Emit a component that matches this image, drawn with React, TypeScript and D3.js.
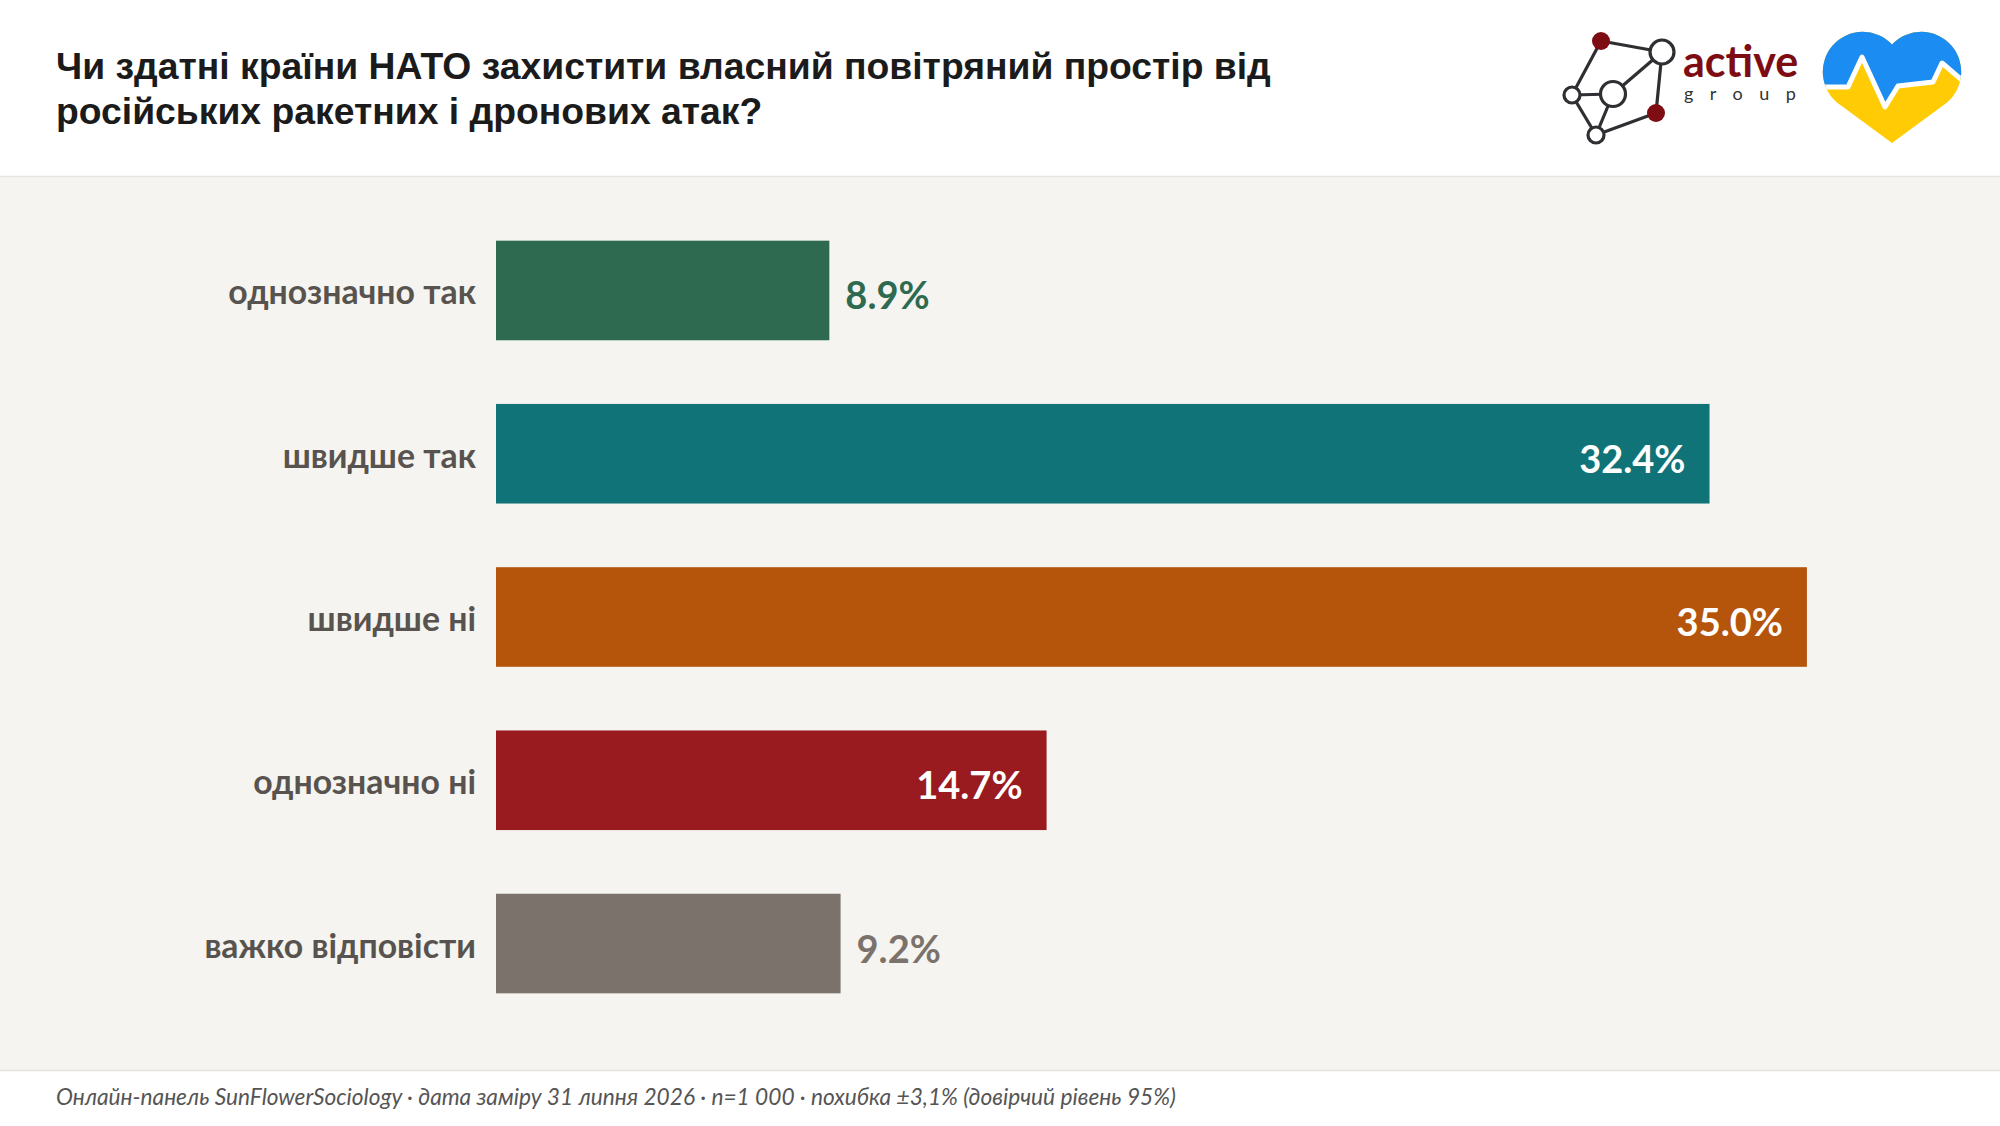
// @ts-nocheck
import React from 'react'
import * as d3 from 'd3'

const titleLines = [
  'Чи здатні країни НАТО захистити власний повітряний простір від',
  'російських ракетних і дронових атак?',
]
const categories = ['однозначно так', 'швидше так', 'швидше ні', 'однозначно ні', 'важко відповісти']
const values = [8.9, 32.4, 35.0, 14.7, 9.2]
const barColors = ['#2e6a50', '#107377', '#b5540b', '#9a1b1f', '#7b726c']
const footnote =
  'Онлайн-панель SunFlowerSociology · дата заміру 31 липня 2026 · n=1 000 · похибка ±3,1% (довірчий рівень 95%)'

const W = 2000
const H = 1126
const headerH = 176
const footerY = 1070
const font = 'Lato, "Noto Sans", "DejaVu Sans", sans-serif'

const ActiveLogo = () => {
  const nodes = [
    { x: 1601, y: 41, r: 9, fill: '#7d0d12' },
    { x: 1662, y: 52, r: 12, fill: '#fff' },
    { x: 1613, y: 94, r: 12.5, fill: '#fff' },
    { x: 1572, y: 95, r: 8, fill: '#fff' },
    { x: 1656, y: 113, r: 9, fill: '#7d0d12' },
    { x: 1596, y: 135, r: 8, fill: '#fff' },
  ]
  const links = [[0, 1], [0, 3], [3, 2], [3, 5], [2, 1], [2, 5], [1, 4], [4, 5]]
  return (
    <g>
      {links.map(([a, b], i) => (
        <line key={i} x1={nodes[a].x} y1={nodes[a].y} x2={nodes[b].x} y2={nodes[b].y} stroke="#2f2f33" strokeWidth={3.2} />
      ))}
      {nodes.map((n, i) => (
        <circle key={i} cx={n.x} cy={n.y} r={n.r} fill={n.fill} stroke={n.fill === '#fff' ? '#2f2f33' : 'none'} strokeWidth={3.2} />
      ))}
      <text x={1683} y={77} fontFamily={font} fontWeight={700} fontSize={43} fill="#7d0d12">
        active
      </text>
      <text x={1684} y={100} fontFamily={font} fontSize={18} letterSpacing={16.5} fill="#333">
        group
      </text>
    </g>
  )
}

const HeartLogo = () => {
  const heart =
    'M1892,44.5 A40,40 0 1 0 1839.3,104.2 L1892,143 L1944.7,104.2 A40,40 0 1 0 1892,44.5 Z'
  const ecg = d3.line()([
    [1820, 87],
    [1848, 87],
    [1862, 57],
    [1885, 107],
    [1898, 86],
    [1933, 82],
    [1942, 63],
    [1962, 80],
  ])
  return (
    <g>
      <defs>
        <clipPath id="heartClip">
          <path d={heart} />
        </clipPath>
      </defs>
      <g clipPath="url(#heartClip)">
        <rect x={1815} y={25} width={155} height={125} fill="#ffcb05" />
        <path d={ecg + 'L1962,20L1820,20Z'} fill="#1a8cf2" />
        <path d={ecg} fill="none" stroke="#fff" strokeWidth={5} strokeLinejoin="round" />
      </g>
    </g>
  )
}

const App = () => {
  const y = d3.scaleBand().domain(categories).range([177, 1057]).padding(0.39)
  const x = d3
    .scaleLinear()
    .domain([0, d3.max(values) * 1.1])
    .range([496, 1938])

  return (
    <svg width={W} height={H} style={{ position: 'absolute', left: 0, top: 0 }}>
      <rect x={0} y={0} width={W} height={H} fill="#ffffff" />
      <rect x={0} y={headerH} width={W} height={footerY - headerH} fill="#f5f4f0" />
      <line x1={0} x2={W} y1={headerH + 0.5} y2={headerH + 0.5} stroke="#e6e4df" strokeWidth={1.5} />
      <line x1={0} x2={W} y1={footerY + 0.5} y2={footerY + 0.5} stroke="#e6e4df" strokeWidth={1.5} />

      <text fontFamily='"Liberation Sans", Arial, sans-serif' fontWeight={700} fontSize={37.3} fill="#1b1b1b">
        {titleLines.map((t, i) => (
          <tspan key={i} x={56} y={79 + i * 45}>
            {t}
          </tspan>
        ))}
      </text>

      <ActiveLogo />
      <HeartLogo />

      {categories.map((c, i) => {
        const v = values[i]
        const by = y(c)
        const cy = by + y.bandwidth() / 2
        const end = x(v)
        const inside = v > 12
        return (
          <g key={c}>
            <rect x={x(0)} y={by} width={end - x(0)} height={y.bandwidth()} fill={barColors[i]} />
            <text
              x={476}
              y={cy + 14}
              textAnchor="end"
              fontFamily={font}
              fontWeight={700}
              fontSize={33.8}
              fill="#58534e"
            >
              {c}
            </text>
            <text
              x={inside ? end - 24 : end + 16}
              y={cy + 19}
              textAnchor={inside ? 'end' : 'start'}
              fontFamily={font}
              fontWeight={700}
              fontSize={38}
              fill={inside ? '#ffffff' : barColors[i]}
            >
              {v.toFixed(1)}%
            </text>
          </g>
        )
      })}

      <text x={56} y={1105} fontFamily={font} fontStyle="italic" fontSize={22.7} fill="#555">
        {footnote}
      </text>
    </svg>
  )
}

export default App
